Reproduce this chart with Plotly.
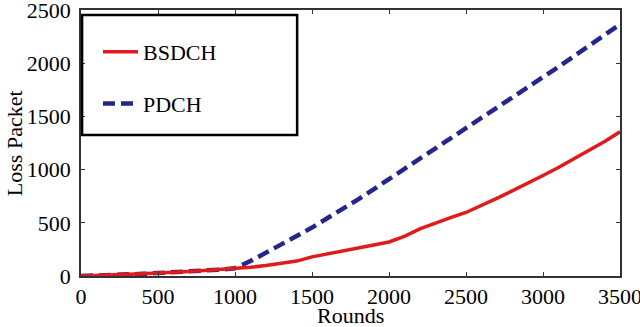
import plotly.graph_objects as go

rounds = list(range(0, 3600, 100))
bsdch = [0, 3, 7, 12, 20, 28, 33, 42, 52, 60, 70, 82, 98, 115, 140, 180, 210, 240,
         268, 292, 320, 372, 442, 498, 548, 597, 660, 730, 800, 870, 945, 1020, 1100,
         1180, 1265, 1355]
pdch = [0, 3, 7, 12, 20, 28, 33, 42, 52, 60, 72, 140, 215, 295, 375, 455, 540, 630,
        720, 815, 910, 1010, 1110, 1205, 1300, 1395, 1490, 1585, 1680, 1775, 1870,
        1965, 2065, 2165, 2265, 2365]

x_ticks = [0, 500, 1000, 1500, 2000, 2500, 3000, 3500]
y_ticks = [0, 500, 1000, 1500, 2000, 2500]
x_title = "Rounds"
y_title = "Loss Packet"

font_family = "Liberation Serif, Times New Roman, serif"
fsize = 22

fig = go.Figure()
fig.add_trace(go.Scatter(x=rounds, y=pdch, mode="lines", name="PDCH",
                         line=dict(color="#25258c", width=4.5, dash="12px,6px"),
                         legendgroup="b", legendrank=2))
fig.add_trace(go.Scatter(x=rounds, y=bsdch, mode="lines", name="BSDCH",
                         line=dict(color="#e01b1b", width=3.5),
                         legendgroup="a", legendrank=1))

axis_common = dict(showline=True, linecolor="#333333", linewidth=1.5, mirror="ticks",
                   ticks="inside", ticklen=4, tickcolor="#333333", showgrid=False,
                   zeroline=False, automargin=False, ticklabeloverflow="allow",
                   tickfont=dict(family=font_family, size=fsize, color="black"))

fig.update_xaxes(range=[0, 3500], tickvals=x_ticks, **axis_common)
fig.update_yaxes(range=[0, 2500], tickvals=y_ticks, ticklabelstandoff=4, **axis_common)

fig.add_annotation(text=x_title, xref="paper", yref="paper", x=0.5, y=-0.15,
                   xanchor="center", yanchor="middle", showarrow=False,
                   font=dict(family=font_family, size=fsize, color="black"))
fig.add_annotation(text=y_title, xref="paper", yref="paper", x=-0.124, y=0.5,
                   xanchor="center", yanchor="middle", showarrow=False, textangle=-90,
                   font=dict(family=font_family, size=fsize, color="black"))

fig.add_shape(type="rect", xref="paper", yref="paper", x0=0.002, x1=0.401, y0=0.53, y1=0.981,
              line=dict(color="black", width=2.5), fillcolor="rgba(0,0,0,0)")

fig.update_layout(
    width=640, height=327,
    margin=dict(l=81, r=20, t=10, b=51),
    paper_bgcolor="white", plot_bgcolor="white",
    showlegend=True,
    legend=dict(x=0.0315, y=0.921, xanchor="left", yanchor="top",
                bgcolor="rgba(0,0,0,0)", borderwidth=0,
                traceorder="grouped", tracegroupgap=20, itemwidth=35,
                font=dict(family=font_family, size=fsize, color="black")),
)

fig.write_html("out.html", config={"displayModeBar": False},
               post_script="document.body.style.margin='0';")
